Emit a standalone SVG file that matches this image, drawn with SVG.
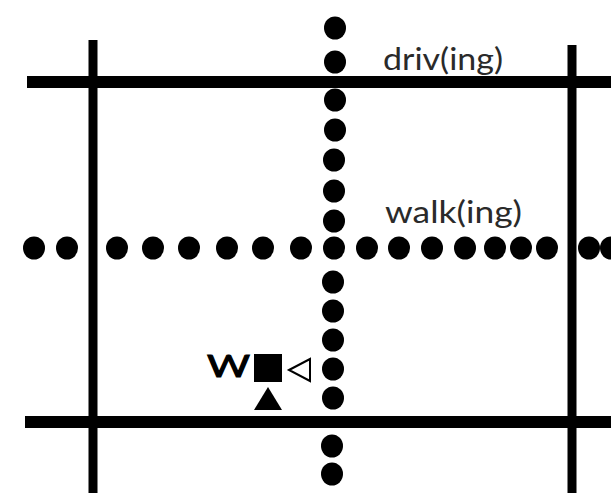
<svg xmlns="http://www.w3.org/2000/svg" width="611" height="493" viewBox="0 0 611 493">
  <defs>
    <style>
      .road { stroke: #000; stroke-width: 12; stroke-linecap: butt; fill: none; }
      .vroad { stroke: #000; stroke-width: 9; fill: none; }
      .dot { fill: #000; }
      .lbl { font-family: "Lato", "Liberation Sans", sans-serif; font-weight: 400; font-size: 30px; fill: #2a2a2a; }
      .w { font-family: "Lato", "Liberation Sans", sans-serif; font-weight: 400; font-size: 30px; fill: #000; stroke: #000; stroke-width: 1; }
    </style>
    <ellipse id="d" class="dot" cx="0" cy="0" rx="11" ry="11.5"/>
  </defs>
  <rect width="611" height="493" fill="#fff"/>

  <g id="roads">
    <line class="vroad" x1="93" y1="40" x2="93" y2="493"/>
    <line class="vroad" x1="572" y1="45" x2="572" y2="493"/>
    <line class="road" x1="27" y1="82" x2="611" y2="82"/>
    <line class="road" x1="25" y1="422" x2="611" y2="422"/>
  </g>

  <g id="walkway-vertical">
    <use href="#d" x="335" y="28"/>
    <use href="#d" x="335" y="62"/>
    <use href="#d" x="335" y="100"/>
    <use href="#d" x="335" y="130"/>
    <use href="#d" x="334" y="160"/>
    <use href="#d" x="334" y="191"/>
    <use href="#d" x="334" y="221"/>
    <use href="#d" x="333" y="282"/>
    <use href="#d" x="333" y="311"/>
    <use href="#d" x="333" y="340"/>
    <use href="#d" x="333" y="369"/>
    <use href="#d" x="333" y="398"/>
    <use href="#d" x="332" y="446"/>
    <use href="#d" x="332" y="474"/>
  </g>

  <g id="walkway-horizontal">
    <use href="#d" x="34" y="248"/>
    <use href="#d" x="67" y="248"/>
    <use href="#d" x="117" y="248"/>
    <use href="#d" x="153" y="248"/>
    <use href="#d" x="189" y="248"/>
    <use href="#d" x="227" y="248"/>
    <use href="#d" x="263" y="248"/>
    <use href="#d" x="301" y="248"/>
    <use href="#d" x="334" y="248"/>
    <use href="#d" x="367" y="248"/>
    <use href="#d" x="399" y="248"/>
    <use href="#d" x="432" y="248"/>
    <use href="#d" x="465" y="248"/>
    <use href="#d" x="495" y="248"/>
    <use href="#d" x="521" y="248"/>
    <use href="#d" x="547" y="248"/>
    <use href="#d" x="589" y="248"/>
    <use href="#d" x="611" y="248"/>
  </g>

  <g id="label-driving">
    <text class="lbl" x="383" y="70" textLength="120" lengthAdjust="spacingAndGlyphs">driv(ing)</text>
  </g>
  <g id="label-walking">
    <text class="lbl" x="385" y="223" textLength="137" lengthAdjust="spacingAndGlyphs">walk(ing)</text>
  </g>

  <g id="marker-w">
    <text class="w" x="207" y="377" textLength="43" lengthAdjust="spacingAndGlyphs">W</text>
    <rect x="254" y="354" width="28" height="28" fill="#000"/>
    <polygon points="289,370 310,359 310,381" fill="none" stroke="#000" stroke-width="2"/>
    <polygon points="268,387 282,410 254,410" fill="#000"/>
  </g>
</svg>
